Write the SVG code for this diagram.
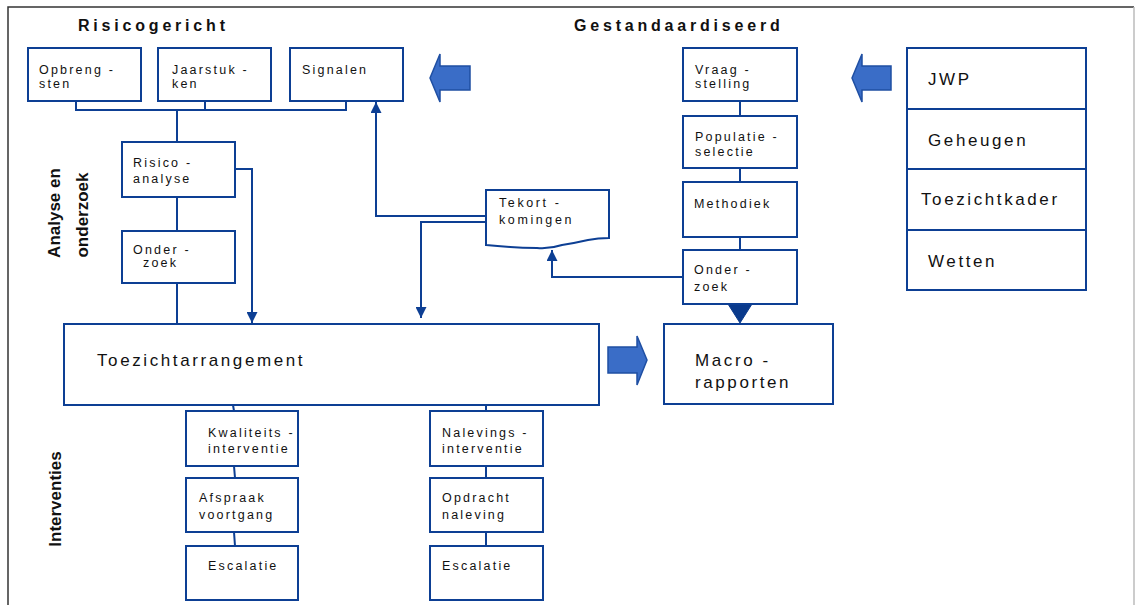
<svg xmlns="http://www.w3.org/2000/svg" width="1135" height="605" viewBox="0 0 1135 605">
<defs>
<style>
.box{fill:#fff;stroke:#0D3F94;stroke-width:2}
.ln{fill:none;stroke:#0D3F94;stroke-width:2}
.t{font-family:"Liberation Sans",Arial,sans-serif;font-size:12.5px;letter-spacing:2.2px;fill:#111}
.tl{font-family:"Liberation Sans",Arial,sans-serif;font-size:17px;letter-spacing:2.6px;fill:#111}
.h{font-family:"Liberation Sans",Arial,sans-serif;font-size:16px;font-weight:bold;letter-spacing:3.8px;fill:#111}
.v{font-family:"Liberation Sans",Arial,sans-serif;font-size:17px;font-weight:bold;fill:#111}
.blk{fill:#3A6DC7;stroke:#1F4FA3;stroke-width:1.5}
</style>
<marker id="ah" viewBox="0 0 10 10" refX="10" refY="5" markerWidth="11" markerHeight="11" markerUnits="userSpaceOnUse" orient="auto">
<path d="M0,0 L10,5 L0,10 Z" fill="#0D3F94"/>
</marker>
</defs>
<rect x="8" y="7" width="1126" height="620" fill="#fff" stroke="none"/>
<path d="M8,610 V7 H1134" fill="none" stroke="#333" stroke-width="1.5"/>
<path d="M1134,7 V610" fill="none" stroke="#bbb" stroke-width="1.5"/>

<text class="h" x="78" y="31">Risicogericht</text>
<text class="h" x="574" y="31">Gestandaardiseerd</text>
<text class="v" transform="translate(60,213) rotate(-90)" text-anchor="middle">Analyse en</text>
<text class="v" transform="translate(88,215) rotate(-90)" text-anchor="middle">onderzoek</text>
<text class="v" transform="translate(61,499) rotate(-90)" text-anchor="middle">Interventies</text>

<g id="connectors">
<path class="ln" d="M76,101 V110 H346 V101 M205,101 V110 M177,110 V142"/>
<path class="ln" d="M177,197 V231 M177,283 V324"/>
<path class="ln" d="M235,169 H252 V323" marker-end="url(#ah)"/>
<path class="ln" d="M486,216 H376 V102" marker-end="url(#ah)"/>
<path class="ln" d="M486,222 H421 V318" marker-end="url(#ah)"/>
<path class="ln" d="M683,277 H552 V250" marker-end="url(#ah)"/>
<path class="ln" d="M740,101 V116 M740,168 V182 M740,237 V250"/>
<path d="M728,304 H752 L740,323 Z" fill="#0A3A8C" stroke="#0A3A8C" stroke-width="1"/>
<path class="ln" d="M233,405 L234,411 M234,466 L235,478 M234,532 L235,546"/>
<path class="ln" d="M486,405 V411 M486,466 V478 M486,532 V546"/>
<path class="blk" d="M430,78 L440,54 L440,66 L470,66 L470,90 L440,90 L440,102 Z"/>
<path class="blk" d="M852,78 L862,54 L862,66 L891,66 L891,90 L862,90 L862,102 Z"/>
<path class="blk" d="M647,360 L637,336 L637,347 L608,347 L608,373 L637,373 L637,385 Z"/>
</g>

<g id="opbrengsten"><rect class="box" x="28" y="48" width="113" height="53"/><text class="t" x="39" y="74">Opbreng -</text><text class="t" x="39" y="88">sten</text></g>
<g id="jaarstukken"><rect class="box" x="158" y="48" width="113" height="53"/><text class="t" x="172" y="74">Jaarstuk -</text><text class="t" x="172" y="88">ken</text></g>
<g id="signalen"><rect class="box" x="290" y="48" width="113" height="53"/><text class="t" x="302" y="74">Signalen</text></g>

<g id="risicoanalyse"><rect class="box" x="122" y="142" width="113" height="55"/><text class="t" x="133" y="167">Risico  -</text><text class="t" x="133" y="183">analyse</text></g>
<g id="onderzoek1"><rect class="box" x="122" y="231" width="113" height="52"/><text class="t" x="133" y="254">Onder -</text><text class="t" x="143" y="267">zoek</text></g>

<g id="tekortkomingen"><path class="box" d="M486,190 H609 V238 Q598,238 588,240 Q575,243 562,245 Q550,249 537,248 Q522,248 510,247 Q497,246 486,245 Z"/><text class="t" x="499" y="207" style="letter-spacing:2.6px">Tekort -</text><text class="t" x="499" y="224" style="letter-spacing:2.6px">komingen</text></g>

<g id="vraagstelling"><rect class="box" x="683" y="48" width="114" height="53"/><text class="t" x="695" y="74">Vraag -</text><text class="t" x="695" y="88">stelling</text></g>
<g id="populatieselectie"><rect class="box" x="683" y="116" width="114" height="52"/><text class="t" x="695" y="141">Populatie -</text><text class="t" x="695" y="156">selectie</text></g>
<g id="methodiek"><rect class="box" x="683" y="182" width="114" height="55"/><text class="t" x="694" y="208">Methodiek</text></g>
<g id="onderzoek2"><rect class="box" x="683" y="250" width="114" height="54"/><text class="t" x="694" y="274">Onder -</text><text class="t" x="694" y="291">zoek</text></g>

<g id="bronnen"><rect class="box" x="907" y="48" width="179" height="242"/><path class="ln" d="M907,109 H1086 M907,169 H1086 M907,230 H1086"/>
<text class="tl" x="928" y="85">JWP</text><text class="tl" x="928" y="146">Geheugen</text><text class="tl" x="921" y="205">Toezichtkader</text><text class="tl" x="928" y="267">Wetten</text></g>

<g id="toezichtarrangement"><rect class="box" x="64" y="324" width="535" height="81"/><text class="tl" x="97" y="366">Toezichtarrangement</text></g>
<g id="macrorapporten"><rect class="box" x="664" y="324" width="169" height="80"/><text class="tl" x="695" y="366">Macro -</text><text class="tl" x="695" y="388">rapporten</text></g>

<g id="kwaliteitsinterventie"><rect class="box" x="186" y="411" width="112" height="55"/><text class="t" x="208" y="437">Kwaliteits -</text><text class="t" x="208" y="453">interventie</text></g>
<g id="afspraakvoortgang"><rect class="box" x="186" y="478" width="112" height="54"/><text class="t" x="199" y="502">Afspraak</text><text class="t" x="199" y="519">voortgang</text></g>
<g id="escalatie1"><rect class="box" x="186" y="546" width="112" height="54"/><text class="t" x="208" y="570">Escalatie</text></g>

<g id="nalevingsinterventie"><rect class="box" x="430" y="411" width="113" height="55"/><text class="t" x="442" y="437">Nalevings -</text><text class="t" x="442" y="453">interventie</text></g>
<g id="opdrachtnaleving"><rect class="box" x="430" y="478" width="113" height="54"/><text class="t" x="442" y="502">Opdracht</text><text class="t" x="442" y="519">naleving</text></g>
<g id="escalatie2"><rect class="box" x="430" y="546" width="113" height="54"/><text class="t" x="442" y="570">Escalatie</text></g>
</svg>
